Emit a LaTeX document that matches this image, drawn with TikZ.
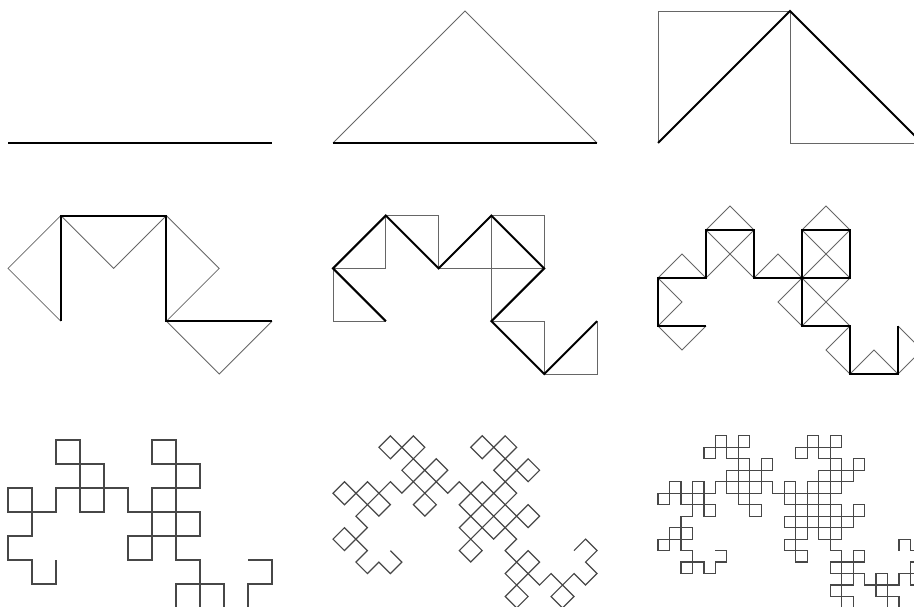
\documentclass[tikz,border=0pt]{standalone}
\usetikzlibrary{lindenmayersystems}
\pgfdeclarelindenmayersystem{dragon}{
  \symbol{G}{\pgflsystemdrawforward}
  \rule{F -> F-G}
  \rule{G -> F+G}
}
\tikzset{
  thickcurve/.style={line width=2pt, draw=black},
  thincurve/.style={line width=0.8pt, draw=black!60},
  finecurve/.style={line width=1.2pt, draw=black!72},
}
% style, x, y, order, step, rotation
\newcommand{\dragonpath}[6]{%
  \begin{scope}[shift={(#2,#3)}, rotate=#6]
    \draw[#1] (0,0) [l-system={dragon, axiom=F, order=#4, step=#5pt, angle=90}] lindenmayer system;
  \end{scope}}
\begin{document}
\begin{tikzpicture}[x=1pt, y=1pt]
\useasboundingbox (0,0) rectangle (914,-607);
\clip (0,0) rectangle (914,-607);
% panel 1
\coordinate (p1s) at (8,-143);
\coordinate (p1e) at (272,-143);
\draw[thickcurve] (p1s) -- (p1e);
% panel 2
\coordinate (p2s) at (333,-143);
\coordinate (p2e) at (597,-143);
\dragonpath{thincurve}{333}{-143}{1}{186.676}{45}
\draw[thickcurve] (p2s) -- (p2e);
% panel 3
\dragonpath{thincurve}{658}{-143}{2}{132}{90}
\dragonpath{thickcurve}{658}{-143}{1}{186.676}{45}
% panel 4
\dragonpath{thincurve}{60.8}{-321.2}{3}{74.67}{135}
\dragonpath{thickcurve}{60.8}{-321.2}{2}{105.6}{90}
% panel 5
\dragonpath{thincurve}{385.8}{-321.2}{4}{52.8}{180}
\dragonpath{thickcurve}{385.8}{-321.2}{3}{74.67}{135}
% panel 6
\dragonpath{thincurve}{706}{-326}{5}{33.941}{225}
\dragonpath{thickcurve}{706}{-326}{4}{48}{180}
% panel 7
\dragonpath{finecurve}{56}{-560}{6}{24}{270}
% panel 8
\dragonpath{finecurve}{390.4}{-550.6}{7}{16.232}{315}
% panel 9
\dragonpath{finecurve}{715.4}{-550.6}{8}{11.478}{0}
\end{tikzpicture}
\end{document}
